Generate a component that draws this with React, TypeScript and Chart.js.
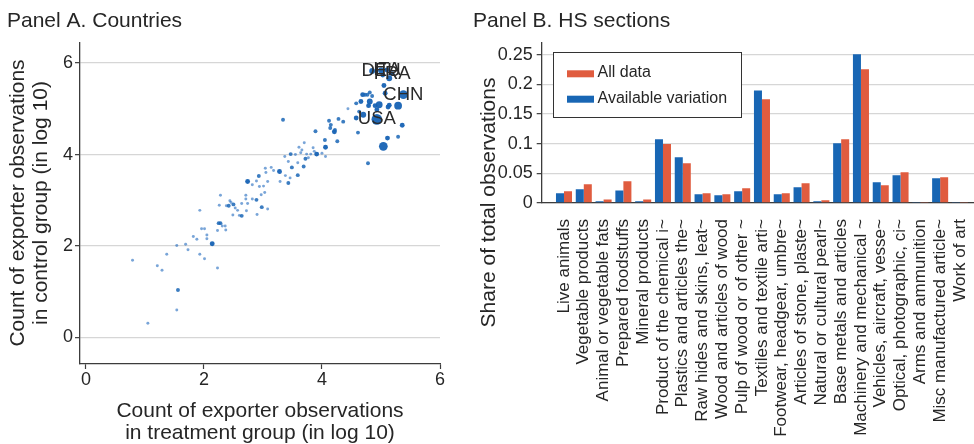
import React, { useEffect, useRef } from 'react';
import { Chart, registerables } from 'chart.js';

Chart.register(...registerables);

// ---------- Panel A data ----------
const treatmentLog = [
  0.79, 1.05, 1.21, 1.29, 1.37, 1.54, 1.56, 1.54, 1.69, 1.73,
  1.82, 1.88, 1.93, 1.93, 1.96, 2.01, 2.01, 2.05, 2.05, 2.14,
  2.23, 2.23, 2.25, 2.28, 2.26, 2.28, 2.31, 2.36, 2.37, 2.38,
  2.44, 2.46, 2.50, 2.42, 2.49, 2.53, 2.57, 2.60, 2.64, 2.64,
  2.71, 2.71, 2.72, 2.74, 2.74, 2.82, 2.82, 2.89, 2.90, 2.89,
  2.93, 2.94, 2.97, 2.98, 3.01, 3.03, 3.04, 3.05, 3.08, 3.08,
  3.14, 3.18, 3.28, 3.29, 3.29, 3.34, 3.37, 3.38, 3.43, 3.43,
  3.46, 3.47, 3.49, 3.55, 3.59, 3.59, 3.61, 3.64, 3.66, 3.69,
  3.70, 3.72, 3.74, 3.77, 3.81, 3.85, 3.87, 3.89, 3.91, 4.00,
  4.06, 4.06, 4.05, 4.12, 4.14, 4.15, 4.21, 4.22, 4.26, 4.28,
  4.36, 4.44, 4.58, 4.58, 4.61, 4.63, 4.66, 4.69, 4.70, 4.73,
  4.77, 4.78, 4.79, 4.81, 4.81, 4.85, 4.85, 4.90, 4.93, 4.93,
  4.97, 5.00, 5.03, 5.04, 5.05, 5.07, 5.10, 5.11, 5.12, 5.14,
  5.14, 5.19, 5.29, 5.29, 5.36, 5.38,
];
const controlLog = [
  1.69, 0.31, 1.57, 1.47, 1.82, 0.60, 1.04, 2.01, 2.04, 1.92,
  2.21, 2.15, 1.82, 2.78, 2.38, 2.38, 1.72, 2.24, 2.16, 2.05,
  1.52, 2.34, 2.50, 2.50, 2.89, 3.11, 2.44, 2.44, 2.35, 2.88,
  2.99, 2.95, 2.91, 2.88, 2.68, 2.83, 2.78, 2.67, 2.66, 2.93,
  3.03, 3.11, 2.77, 3.41, 2.93, 3.34, 3.03, 3.01, 2.69, 3.42,
  3.53, 3.30, 3.12, 2.85, 3.31, 3.17, 3.70, 3.61, 2.81, 3.41,
  3.72, 3.65, 3.63, 3.41, 3.61, 4.76, 3.96, 3.54, 3.38, 3.85,
  3.49, 4.01, 3.72, 4.00, 3.82, 3.55, 4.16, 4.04, 4.10, 3.74,
  4.26, 3.91, 4.01, 3.93, 4.01, 4.15, 4.07, 4.51, 4.01, 4.03,
  4.16, 3.96, 4.32, 4.74, 4.58, 4.65, 4.50, 4.54, 4.29, 4.78,
  4.72, 5.00, 4.80, 5.12, 4.48, 4.94, 5.16, 5.31, 4.87, 5.31,
  5.31, 3.81, 5.07, 5.36, 5.16, 5.28, 5.83, 5.07, 4.98, 4.77,
  5.09, 5.84, 5.74, 4.18, 5.51, 5.34, 5.85, 4.36, 5.04, 5.08,
  5.67, 5.77, 4.39, 5.07, 4.64, 5.31,
];
const pointWeight = [
  1, 1, 1, 1, 1, 1, 2, 1, 1, 1,
  1, 1, 1, 1, 1, 1, 1, 1, 1, 3,
  1, 1, 2, 2, 1, 1, 1, 1, 1, 1,
  1, 1, 2, 2, 1, 1, 1, 1, 2, 1,
  1, 1, 1, 3, 1, 1, 1, 2, 1, 1,
  2, 1, 1, 2, 1, 1, 1, 1, 1, 1,
  1, 1, 3, 1, 1, 2, 1, 1, 2, 1,
  1, 2, 2, 1, 1, 2, 1, 1, 1, 2,
  1, 2, 1, 1, 1, 1, 1, 2, 3, 1,
  3, 1, 2, 2, 2, 2, 3, 2, 2, 2,
  2, 1, 3, 2, 2, 2, 3, 3, 4, 2,
  2, 2, 3, 2, 4, 2, 4, 3, 3, 9,
  5, 4, 3, 7, 3, 3, 3, 3, 3, 3,
  4, 3, 2, 6, 3, 7,
];
const countryCodes = ['DEU', 'ITA', 'FRA', 'CHN', 'USA'];
const countryX = [5.0, 5.1, 5.19, 5.38, 4.93];
const countryY = [5.84, 5.85, 5.77, 5.31, 4.77];
const logTicks = [0, 2, 4, 6];

// ---------- Panel B data ----------
const hsSections = [
  'Live animals',
  'Vegetable products',
  'Animal or vegetable fats',
  'Prepared foodstuffs',
  'Mineral products',
  'Product of the chemical i~',
  'Plastics and articles the~',
  'Raw hides and skins, leat~',
  'Wood and articles of wood',
  'Pulp of wood or of other ~',
  'Textiles and textile arti~',
  'Footwear, headgear, umbre~',
  'Articles of stone, plaste~',
  'Natural or cultural pearl~',
  'Base metals and articles',
  'Machinery and mechanical ~',
  'Vehicles, aircraft, vesse~',
  'Optical, photographic, ci~',
  'Arms and ammunition',
  'Misc manufactured article~',
  'Work of art',
];
const availableVariation = [
  0.0163, 0.023, 0.003, 0.021, 0.003, 0.1075, 0.077, 0.0146, 0.013, 0.0197,
  0.19, 0.0146, 0.0265, 0.003, 0.1008, 0.251, 0.035, 0.0467, 0.001, 0.0417, 0.001,
];
const allData = [
  0.0197, 0.0315, 0.006, 0.0366, 0.006, 0.0997, 0.067, 0.0163, 0.0146, 0.0248,
  0.175, 0.0163, 0.0332, 0.0045, 0.1075, 0.2258, 0.03, 0.0518, 0.001, 0.0434, 0.001,
];
const shareTicks = [0, 0.05, 0.1, 0.15, 0.2, 0.25];

// ---------- styles ----------
const FONT = '"Liberation Sans", Arial, Helvetica, sans-serif';
const TEXT = '#262626';
const GRID = '#d6d6d6';
const AXIS = '#3c3c3c';
const BLUE = '#1866b4';
const ORANGE = '#e05c3f';
const W = 974;
const H = 444;

function markerColor(w: number) {
  if (w <= 1) return 'rgba(38,110,192,0.62)';
  if (w === 2) return 'rgba(26,102,182,0.85)';
  return 'rgba(22,98,180,0.95)';
}

function drawRotated(ctx: CanvasRenderingContext2D, text: string, x: number, y: number, font: string) {
  ctx.save();
  ctx.translate(x, y);
  ctx.rotate(-Math.PI / 2);
  ctx.font = font;
  ctx.textAlign = 'center';
  ctx.textBaseline = 'alphabetic';
  ctx.fillText(text, 0, 0);
  ctx.restore();
}

export default function App() {
  const refA = useRef<HTMLCanvasElement>(null);
  const refB = useRef<HTMLCanvasElement>(null);

  useEffect(() => {
    const titleFont = `21px ${FONT}`;

    const panelAText = {
      id: 'panelAText',
      afterDraw(chart: any) {
        const ctx = chart.ctx as CanvasRenderingContext2D;
        ctx.save();
        ctx.fillStyle = TEXT;
        ctx.font = titleFont;
        ctx.textAlign = 'left';
        ctx.textBaseline = 'alphabetic';
        ctx.fillText('Panel A. Countries', 7, 26.5);
        ctx.textAlign = 'center';
        ctx.fillText('Count of exporter observations', 260, 416.5);
        ctx.fillText('in treatment group (in log 10)', 260, 439);
        drawRotated(ctx, 'Count of exporter observations', 24, 203, titleFont);
        drawRotated(ctx, 'in control group (in log 10)', 47, 203, titleFont);
        ctx.restore();
      },
      afterDatasetsDraw(chart: any) {
        const ctx = chart.ctx as CanvasRenderingContext2D;
        const xs = chart.scales.x;
        const ys = chart.scales.y;
        ctx.save();
        ctx.fillStyle = '#2a2a2a';
        ctx.font = `18.5px ${FONT}`;
        ctx.textAlign = 'center';
        ctx.textBaseline = 'middle';
        countryCodes.forEach((c, i) => {
          ctx.fillText(c, xs.getPixelForValue(countryX[i]), ys.getPixelForValue(countryY[i]));
        });
        ctx.restore();
      },
    };

    const chartA = new Chart(refA.current!, {
      type: 'scatter',
      data: {
        datasets: [
          {
            data: treatmentLog.map((x, i) => ({ x, y: controlLog[i] })),
            pointRadius: pointWeight.map((w) => 1.0 + 0.48 * w),
            pointBackgroundColor: pointWeight.map(markerColor),
            pointBorderWidth: 0,
            pointBorderColor: 'rgba(0,0,0,0)',
          },
        ],
      },
      options: {
        responsive: false,
        animation: false,
        devicePixelRatio: 1,
        layout: { padding: { left: 0, top: 43, right: W - 440, bottom: 0 } },
        plugins: { legend: { display: false }, tooltip: { enabled: false } },
        scales: {
          x: {
            type: 'linear',
            min: -0.1,
            max: 6,
            afterBuildTicks: (s: any) => {
              s.ticks = logTicks.map((v) => ({ value: v }));
            },
            afterFit: (s: any) => {
              s.height = H - 364;
              s.paddingLeft = 0;
              s.paddingRight = 0;
            },
            grid: { drawOnChartArea: false, drawTicks: true, tickLength: 5, tickColor: AXIS, tickWidth: 1.2 },
            border: { display: true, color: AXIS, width: 1.3 },
            ticks: { font: { family: FONT, size: 18 }, color: TEXT, padding: 0, maxRotation: 0 },
          },
          y: {
            type: 'linear',
            min: -0.58,
            max: 6.44,
            afterBuildTicks: (s: any) => {
              s.ticks = logTicks.map((v) => ({ value: v }));
            },
            afterFit: (s: any) => {
              s.width = 80;
              s.paddingTop = 0;
              s.paddingBottom = 0;
            },
            grid: { color: GRID, lineWidth: 1.3, drawTicks: true, tickLength: 5, tickColor: AXIS, tickWidth: 1.2 },
            border: { display: true, color: AXIS, width: 1.3 },
            ticks: { font: { family: FONT, size: 18 }, color: TEXT, padding: 2 },
          },
        },
      },
      plugins: [panelAText],
    } as any);

    const panelBText = {
      id: 'panelBText',
      afterDraw(chart: any) {
        const ctx = chart.ctx as CanvasRenderingContext2D;
        ctx.save();
        ctx.fillStyle = TEXT;
        ctx.font = titleFont;
        ctx.textAlign = 'left';
        ctx.textBaseline = 'alphabetic';
        ctx.fillText('Panel B. HS sections', 473, 26.5);
        drawRotated(ctx, 'Share of total observations', 495, 202.5, titleFont);

        // legend box
        ctx.strokeStyle = '#333333';
        ctx.lineWidth = 1;
        ctx.fillStyle = '#ffffff';
        ctx.fillRect(553.5, 52.5, 188, 65);
        ctx.strokeRect(553.5, 52.5, 188, 65);
        const ds = chart.data.datasets;
        const order = [1, 0];
        const rows = [77.3, 102.7];
        order.forEach((di, r) => {
          ctx.fillStyle = ds[di].backgroundColor;
          ctx.fillRect(567, rows[r] - 7, 27, 7);
          ctx.fillStyle = TEXT;
          ctx.font = `16px ${FONT}`;
          ctx.fillText(ds[di].label, 597.5, rows[r]);
        });
        ctx.restore();
      },
    };

    const chartB = new Chart(refB.current!, {
      type: 'bar',
      data: {
        datasets: [
          {
            label: 'Available variation',
            data: availableVariation.map((v, i) => ({ x: i + 1, y: v })),
            backgroundColor: BLUE,
            borderWidth: 0,
            barPercentage: 1,
            categoryPercentage: 0.81,
          },
          {
            label: 'All data',
            data: allData.map((v, i) => ({ x: i + 1, y: v })),
            backgroundColor: ORANGE,
            borderWidth: 0,
            barPercentage: 1,
            categoryPercentage: 0.81,
          },
        ],
      },
      options: {
        responsive: false,
        animation: false,
        devicePixelRatio: 1,
        layout: { padding: { left: 541.7 - 70, top: 43, right: 0, bottom: 0 } },
        plugins: { legend: { display: false }, tooltip: { enabled: false } },
        scales: {
          x: {
            type: 'linear',
            offset: false,
            min: -0.126,
            max: 21.71,
            afterBuildTicks: (s: any) => {
              s.ticks = hsSections.map((_, i) => ({ value: i + 1 }));
            },
            afterFit: (s: any) => {
              s.height = H - 203;
              s.paddingLeft = 0;
              s.paddingRight = 0;
            },
            grid: { display: false },
            border: { display: true, color: AXIS, width: 1.3 },
            ticks: {
              autoSkip: false,
              minRotation: 90,
              maxRotation: 90,
              padding: 8,
              font: { family: FONT, size: 17 },
              color: TEXT,
              callback: (_v: any, i: number) => hsSections[i],
            },
          },
          y: {
            type: 'linear',
            min: 0,
            max: 0.27,
            afterBuildTicks: (s: any) => {
              s.ticks = shareTicks.map((v) => ({ value: v }));
            },
            afterFit: (s: any) => {
              s.width = 70;
              s.paddingTop = 0;
              s.paddingBottom = 0;
            },
            grid: { color: GRID, lineWidth: 1.3, drawTicks: true, tickLength: 5, tickColor: AXIS, tickWidth: 1.2 },
            border: { display: true, color: AXIS, width: 1.3 },
            ticks: {
              font: { family: FONT, size: 18 },
              color: TEXT,
              padding: 4,
              callback: (v: any) => String(Math.round(Number(v) * 100) / 100),
            },
          },
        },
      },
      plugins: [panelBText],
    } as any);

    return () => {
      chartA.destroy();
      chartB.destroy();
    };
  }, []);

  const canvasStyle: React.CSSProperties = { position: 'absolute', left: 0, top: 0 };
  return (
    <div style={{ position: 'fixed', left: 0, top: 0, width: W, height: H, background: '#ffffff' }}>
      <canvas ref={refA} width={W} height={H} style={canvasStyle} />
      <canvas ref={refB} width={W} height={H} style={canvasStyle} />
    </div>
  );
}
